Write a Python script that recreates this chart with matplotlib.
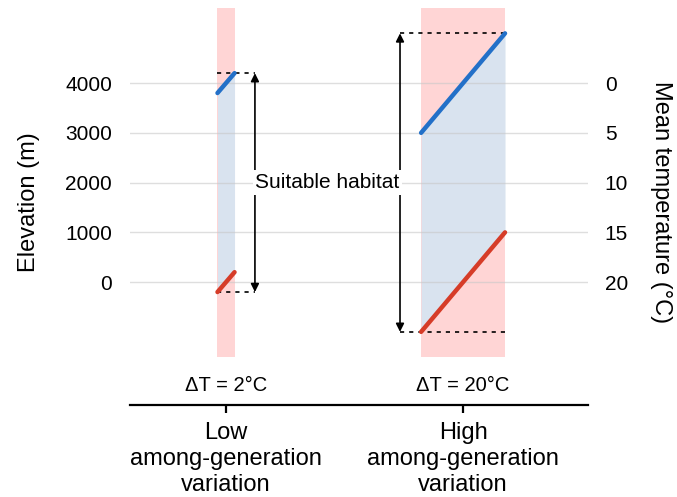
import matplotlib.pyplot as plt
import numpy as np

plt.rcParams['font.family'] = ['Liberation Sans', 'DejaVu Sans']

# data
groups = ["Low\namong-generation\nvariation", "High\namong-generation\nvariation"]
delta_T = [2, 20]
upper_start = [3800, 3000]    # blue line, elevation at left edge (m)
upper_end = [4200, 5000]      # blue line, elevation at right edge (m)
lower_start = [-200, -1000]   # red line
lower_end = [200, 1000]
band_low, band_high = -1500, 5500
elev_ticks = [0, 1000, 2000, 3000, 4000]
temp_ticks = [0, 5, 10, 15, 20]
lapse = 200  # m per degree, 4000 m = 0 C

xpos = [1.0, 2.0]
halfw = [0.036, 0.177]
arrow_x = [1.122, 1.734]

pink = '#ffd5d5'
bluefill = '#d9e3ef'
blue = '#2370c8'
red = '#d63c28'

fig = plt.figure(figsize=(6.77, 4.97), dpi=100)
ax = fig.add_axes([130/677, 92/497, 458/677, 405/497])
ax.set_xlim(0.595, 2.527)
ylo, yhi = -2470, 5670
ax.set_ylim(ylo, yhi)

for y in elev_ticks:
    ax.axhline(y, color='#c8c8c8', lw=1, alpha=0.6, zorder=3)

for i in range(2):
    x0, x1 = xpos[i] - halfw[i], xpos[i] + halfw[i]
    ax.fill_between([x0, x1], band_low, band_high, color=pink, lw=0, zorder=1)
    ax.fill_between([x0, x1], [lower_start[i], lower_end[i]],
                    [upper_start[i], upper_end[i]], color=bluefill, lw=0, zorder=2)
    ax.plot([x0, x1], [upper_start[i], upper_end[i]], color=blue, lw=3.2,
            solid_capstyle='round', zorder=5)
    ax.plot([x0, x1], [lower_start[i], lower_end[i]], color=red, lw=3.2,
            solid_capstyle='round', zorder=5)
    top = max(upper_start[i], upper_end[i])
    bot = min(lower_start[i], lower_end[i])
    if arrow_x[i] > xpos[i]:
        xa, xb = x0, arrow_x[i]
    else:
        xa, xb = arrow_x[i], x1
    ax.plot([xa, xb], [top, top], color='black', lw=1.2, ls=(0, (2.5, 3)), zorder=4)
    ax.plot([xa, xb], [bot, bot], color='black', lw=1.2, ls=(0, (2.5, 3)), zorder=4)
    ax.annotate('', xy=(arrow_x[i], top), xytext=(arrow_x[i], bot),
                arrowprops=dict(arrowstyle='<|-|>', color='black', lw=1.2,
                                mutation_scale=12, shrinkA=0, shrinkB=0), zorder=4)
    ax.text(xpos[i], -2070, f'ΔT = {delta_T[i]}°C', ha='center', va='center', fontsize=14.5)

ax.text(sum(arrow_x) / 2, 2000, 'Suitable habitat', ha='center', va='center', fontsize=15,
        bbox=dict(facecolor='white', edgecolor='none', pad=2), zorder=6)

for s in ['top', 'left', 'right']:
    ax.spines[s].set_visible(False)
ax.spines['bottom'].set_linewidth(1.6)
ax.set_xticks(xpos)
ax.set_xticklabels(groups, fontsize=17)
for lab in ax.get_xticklabels():
    lab.set_linespacing(1.25)
ax.tick_params(axis='x', length=6, width=1.6, pad=6)
ax.set_yticks(elev_ticks)
ax.tick_params(axis='y', length=0, pad=13, labelsize=15)
ax.set_ylabel('Elevation (m)', fontsize=17, labelpad=18)

ax2 = ax.twinx()
ax2.set_ylim((4000 - ylo) / lapse, (4000 - yhi) / lapse)
ax2.set_yticks(temp_ticks)
ax2.tick_params(axis='y', length=0, pad=12, labelsize=15)
for s in ax2.spines.values():
    s.set_visible(False)
ax2.set_ylabel('Mean temperature (°C)', fontsize=17, rotation=-90, labelpad=32)

fig.savefig('out.png', dpi=100)
